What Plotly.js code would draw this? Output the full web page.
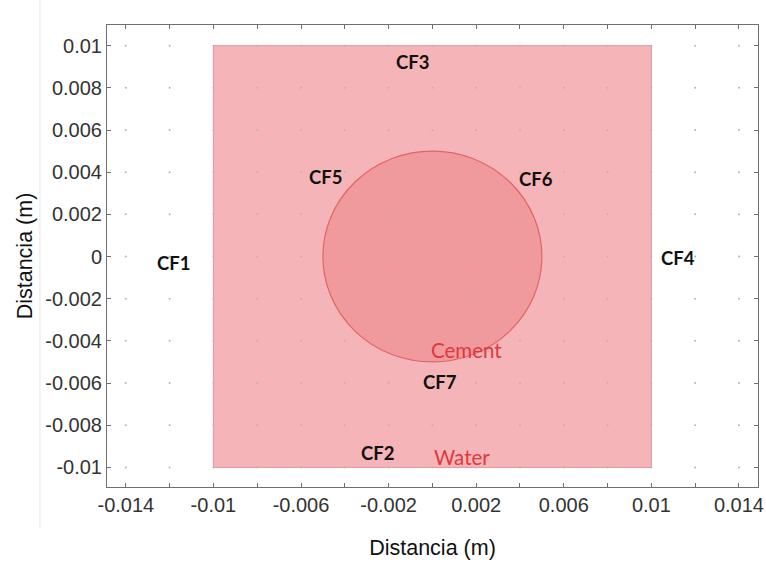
<!DOCTYPE html>
<html>
<head>
<meta charset="utf-8">
<script src="https://cdn.plot.ly/plotly-3.0.1.min.js"></script>
<style>html,body{margin:0;padding:0;background:#fff;}#chart{width:766px;height:565px;}</style>
</head>
<body>
<div id="chart"></div>
<script>
// Domains
var waterX = [-0.01, 0.01];
var waterY = [-0.01, 0.01];
var cementCenter = [0, 0];
var cementRadius = 0.005;

// Boundary labels
var cfNames = ["CF1", "CF2", "CF3", "CF4", "CF5", "CF6", "CF7"];
var cfX = [-0.01184, -0.00251, -0.00092, 0.0112, -0.00489, 0.00471, 0.00037];
var cfY = [-0.00031, -0.00932, 0.00923, -0.00007, 0.00377, 0.00368, -0.00595];

// Material labels
var matNames = ["Cement", "Water"];
var matX = [0.00155, 0.00137];
var matY = [-0.00444, -0.00951];

// Grid / ticks
var gridX = [-0.014, -0.012, -0.01, -0.008, -0.006, -0.004, -0.002, 0, 0.002, 0.004, 0.006, 0.008, 0.01, 0.012, 0.014];
var gridY = [-0.01, -0.008, -0.006, -0.004, -0.002, 0, 0.002, 0.004, 0.006, 0.008, 0.01];
var xTickVals = [-0.014, -0.01, -0.006, -0.002, 0.002, 0.006, 0.01, 0.014];
var xTickText = ["-0.014", "-0.01", "-0.006", "-0.002", "0.002", "0.006", "0.01", "0.014"];
var yTickVals = [-0.01, -0.008, -0.006, -0.004, -0.002, 0, 0.002, 0.004, 0.006, 0.008, 0.01];
var yTickText = ["-0.01", "-0.008", "-0.006", "-0.004", "-0.002", "0", "0.002", "0.004", "0.006", "0.008", "0.01"];

var dotsX = [], dotsY = [];
gridX.forEach(function (gx) { gridY.forEach(function (gy) { dotsX.push(gx); dotsY.push(gy); }); });

var traces = [{
  type: "scatter", mode: "markers", x: dotsX, y: dotsY,
  marker: { size: 2, color: "#b4b4b4" }, hoverinfo: "skip", showlegend: false
}];

var shapes = [
  { type: "line", xref: "paper", yref: "paper", x0: -0.103, x1: -0.103, y0: -0.09, y1: 1.06,
    line: { color: "#e6e6e6", width: 1 } },
  { type: "rect", layer: "below", xref: "x", yref: "y",
    x0: waterX[0], x1: waterX[1], y0: waterY[0], y1: waterY[1],
    fillcolor: "#f5b5b8", line: { color: "#e69599", width: 1 } },
  { type: "circle", layer: "below", xref: "x", yref: "y",
    x0: cementCenter[0] - cementRadius, x1: cementCenter[0] + cementRadius,
    y0: cementCenter[1] - cementRadius, y1: cementCenter[1] + cementRadius,
    fillcolor: "#f09a9e", line: { color: "#e2636a", width: 1.2 } }
];

var annotations = [];
cfNames.forEach(function (n, i) {
  annotations.push({ x: cfX[i], y: cfY[i], xref: "x", yref: "y", text: "<b>" + n + "</b>",
    showarrow: false, font: { family: "Lato, 'Open Sans', sans-serif", size: 18.5, color: "#111" } });
});
matNames.forEach(function (n, i) {
  annotations.push({ x: matX[i], y: matY[i], xref: "x", yref: "y", text: n,
    showarrow: false, font: { family: "Lato, 'Open Sans', sans-serif", size: 20.5, color: "#e0383e" } });
});

var axisCommon = {
  showgrid: false, zeroline: false, showline: true, linecolor: "#707070", linewidth: 1,
  mirror: "ticks", ticks: "inside", ticklen: 4, tickcolor: "#707070",
  tickfont: { family: "'Liberation Sans', Arial, sans-serif", size: 20, color: "#333" }
};

var layout = {
  width: 766, height: 565,
  margin: { l: 107, r: 8, t: 25, b: 78 },
  paper_bgcolor: "#fff", plot_bgcolor: "#fff",
  showlegend: false,
  xaxis: Object.assign({}, axisCommon, {
    range: [-0.01486, 0.01487], tickmode: "array", tickvals: xTickVals, ticktext: xTickText,
    minor: { tickmode: "array", tickvals: gridX, ticks: "inside", ticklen: 4, tickcolor: "#707070" },
    title: { text: "Distancia (m)", font: { family: "'Liberation Sans', Arial, sans-serif", size: 21.5, color: "#111" }, standoff: 24 }
  }),
  yaxis: Object.assign({}, axisCommon, {
    range: [-0.01093, 0.01098], tickmode: "array", tickvals: yTickVals, ticktext: yTickText,
    title: { text: "Distancia (m)", font: { family: "'Liberation Sans', Arial, sans-serif", size: 21.5, color: "#111" }, standoff: 6 }
  }),
  shapes: shapes,
  annotations: annotations
};

Plotly.newPlot("chart", traces, layout, { displayModeBar: false, staticPlot: true });
</script>
</body>
</html>
